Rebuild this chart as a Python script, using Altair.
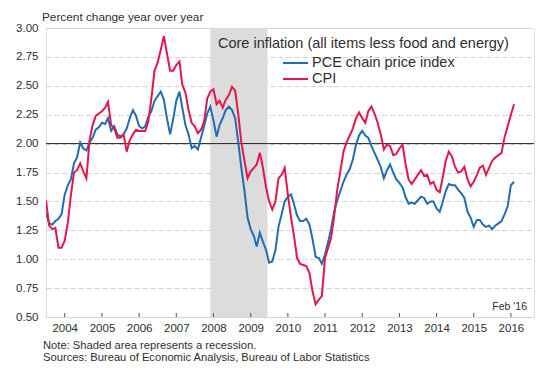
import altair as alt
import pandas as pd

START = "2003-07-01"

cpi = [
    1.51, 1.29, 1.26, 1.27, 1.10, 1.10,
    1.16, 1.32, 1.55, 1.75, 1.77, 1.83, 1.76, 1.70, 2.03, 2.16, 2.24, 2.26,
    2.28, 2.31, 2.36, 2.16, 2.13, 2.05, 2.05, 2.08, 1.93, 2.03, 2.08, 2.12,
    2.11, 2.11, 2.11, 2.19, 2.39, 2.63, 2.70, 2.81, 2.93, 2.78, 2.63, 2.63,
    2.68, 2.71, 2.51, 2.44, 2.29, 2.18, 2.15, 2.09, 2.12, 2.19, 2.39, 2.45,
    2.47, 2.34, 2.37, 2.31, 2.38, 2.42, 2.49, 2.46, 2.25, 2.01, 1.85, 1.70,
    1.76, 1.79, 1.82, 1.92, 1.79, 1.62, 1.50, 1.43, 1.50, 1.70, 1.73, 1.79,
    1.56, 1.36, 1.21, 1.01, 0.96, 0.95, 0.94, 0.88, 0.72, 0.61, 0.65, 0.68,
    1.01, 1.10, 1.18, 1.37, 1.60, 1.76, 1.93, 2.01, 2.07, 2.13, 2.22, 2.27,
    2.22, 2.18, 2.28, 2.32, 2.26, 2.18, 2.08, 1.95, 1.99, 1.98, 1.90, 1.91,
    1.96, 1.99, 1.83, 1.69, 1.65, 1.69, 1.73, 1.77, 1.72, 1.73, 1.65, 1.67,
    1.60, 1.58, 1.70, 1.85, 1.93, 1.89, 1.80, 1.75, 1.76, 1.80, 1.69, 1.63,
    1.67, 1.73, 1.79, 1.81, 1.73, 1.79, 1.85, 1.88, 1.90, 1.92, 2.06, 2.15,
    2.25, 2.34,
]

pce = [
    1.40, 1.31, 1.30, 1.33, 1.35, 1.39,
    1.56, 1.64, 1.69, 1.83, 1.88, 2.01, 1.96, 1.94, 2.01, 2.05, 2.12, 2.14,
    2.18, 2.17, 2.22, 2.11, 2.15, 2.08, 2.06, 2.08, 2.13, 2.22, 2.29, 2.24,
    2.15, 2.13, 2.15, 2.23, 2.28, 2.37, 2.41, 2.45, 2.38, 2.22, 2.08, 2.21,
    2.37, 2.45, 2.31, 2.16, 2.08, 1.96, 1.98, 1.95, 2.05, 2.15, 2.26, 2.32,
    2.20, 2.06, 2.16, 2.22, 2.29, 2.32, 2.29, 2.22, 2.01, 1.79, 1.59, 1.36,
    1.26, 1.20, 1.11, 1.23, 1.15, 1.08, 0.97, 0.98, 1.08, 1.28, 1.39, 1.50,
    1.54, 1.56, 1.48, 1.38, 1.33, 1.33, 1.35, 1.30, 1.17, 1.02, 1.01, 0.96,
    1.04, 1.15, 1.26, 1.41, 1.51, 1.59, 1.67, 1.73, 1.78, 1.86, 1.99, 2.07,
    2.11, 2.07, 2.05, 1.98, 1.92, 1.86, 1.80, 1.70, 1.77, 1.82, 1.75, 1.69,
    1.66, 1.62, 1.54, 1.48, 1.49, 1.48, 1.51, 1.54, 1.53, 1.48, 1.50, 1.50,
    1.44, 1.41, 1.49, 1.59, 1.65, 1.64, 1.64, 1.60, 1.57, 1.53, 1.41, 1.36,
    1.28, 1.34, 1.34, 1.30, 1.28, 1.29, 1.26, 1.29, 1.31, 1.33, 1.39, 1.46,
    1.64, 1.67,
]

series_names = ["PCE chain price index", "CPI"]
series_colors = ["#1f6db5", "#e3174b"]
year_ticks = list(range(2004, 2017))
y_ticks = [0.50, 0.75, 1.00, 1.25, 1.50, 1.75, 2.00, 2.25, 2.50, 2.75, 3.00]
recession_start = "2007-12-01"
recession_end = "2009-06-15"
target_level = [2.0]

legend_title = "Core inflation (all items less food and energy)"
y_title = "Percent change year over year"
note_text = "Note: Shaded area represents a recession."
source_text = "Sources: Bureau of Economic Analysis, Bureau of Labor Statistics"
last_obs = "Feb '16"

FONT = "Liberation Sans"
TXT = "#2e2e2e"
W, H = 488, 289

dates = pd.date_range(START, periods=len(cpi), freq="MS")
df = pd.concat([
    pd.DataFrame({"date": dates, "value": pce, "series": series_names[0]}),
    pd.DataFrame({"date": dates, "value": cpi, "series": series_names[1]}),
], ignore_index=True)

rec_df = pd.DataFrame({"date": [pd.Timestamp(recession_start)],
                       "date_end": [pd.Timestamp(recession_end)]})
tick_df = pd.DataFrame({"date": [pd.Timestamp(f"{y}-01-01") for y in year_ticks]})
target_df = pd.DataFrame({"value": target_level})

xscale = alt.Scale(domain=[alt.DateTime(year=2003, month=7, date=1),
                           alt.DateTime(year=2016, month=8, date=15)])
yscale = alt.Scale(domain=[0.5, 3.0], nice=False, zero=False)

xaxis = alt.Axis(values=[alt.DateTime(year=y, month=1, date=1) for y in year_ticks],
                 format="%Y", title=None, ticks=False, domain=False, grid=False,
                 labelFontSize=11.5, labelColor=TXT, labelPadding=5, labelFont=FONT)
yaxis = alt.Axis(values=y_ticks, format=".2f", title=None, ticks=False, domain=False,
                 grid=True, gridDash=[5, 3], gridColor="#d2d2d2", gridWidth=1,
                 labelFontSize=11.5, labelColor=TXT, labelPadding=8, labelFont=FONT)

X = alt.X("date:T", scale=xscale, axis=xaxis)
Y = alt.Y("value:Q", scale=yscale, axis=yaxis)

rec = alt.Chart(rec_df).mark_rect(color="#dcdcdc").encode(x=X, x2="date_end:T")

target = alt.Chart(target_df).mark_rule(color="#222222", strokeWidth=1).encode(y=Y)

lines = alt.Chart(df).mark_line(strokeWidth=2, clip=True).encode(
    x=X, y=Y,
    color=alt.Color("series:N", scale=alt.Scale(domain=series_names, range=series_colors),
                    legend=None),
)

xticks = alt.Chart(tick_df).mark_rule(color="#555555", strokeWidth=1).encode(
    x=X, y=alt.value(H), y2=alt.value(H - 4))


def label(text, x, y, size, align="left", color=TXT):
    return alt.Chart(pd.DataFrame({"t": [text]})).mark_text(
        align=align, baseline="middle", fontSize=size, font=FONT, color=color
    ).encode(text="t:N", x=alt.value(x), y=alt.value(y))


def legend_line(color, y):
    return alt.Chart(pd.DataFrame({"c": [color]})).mark_rule(
        color=color, strokeWidth=2
    ).encode(x=alt.value(237), x2=alt.value(262), y=alt.value(y))


layers = [
    rec, target, lines, xticks,
    label(legend_title, 172, 16, 14.5),
    legend_line(series_colors[0], 35),
    label(series_names[0], 266, 35, 14.5),
    legend_line(series_colors[1], 51),
    label(series_names[1], 266, 51, 14.5),
    label(y_title, -4, -11, 11.8),
    label(last_obs, 481, 279, 10.5, align="right"),
    label(note_text, -3, 318, 11.2),
    label(source_text, -3, 330, 11.2),
]

chart = alt.layer(*layers).properties(
    width=W, height=H,
    autosize=alt.AutoSizeParams(type="none"),
    padding={"left": 38, "top": 20, "right": 8, "bottom": 60},
).configure_view(stroke="#666666", strokeWidth=1.5).configure(font=FONT, background="white")

chart.save("out.html", embed_options={"renderer": "svg", "actions": False})
